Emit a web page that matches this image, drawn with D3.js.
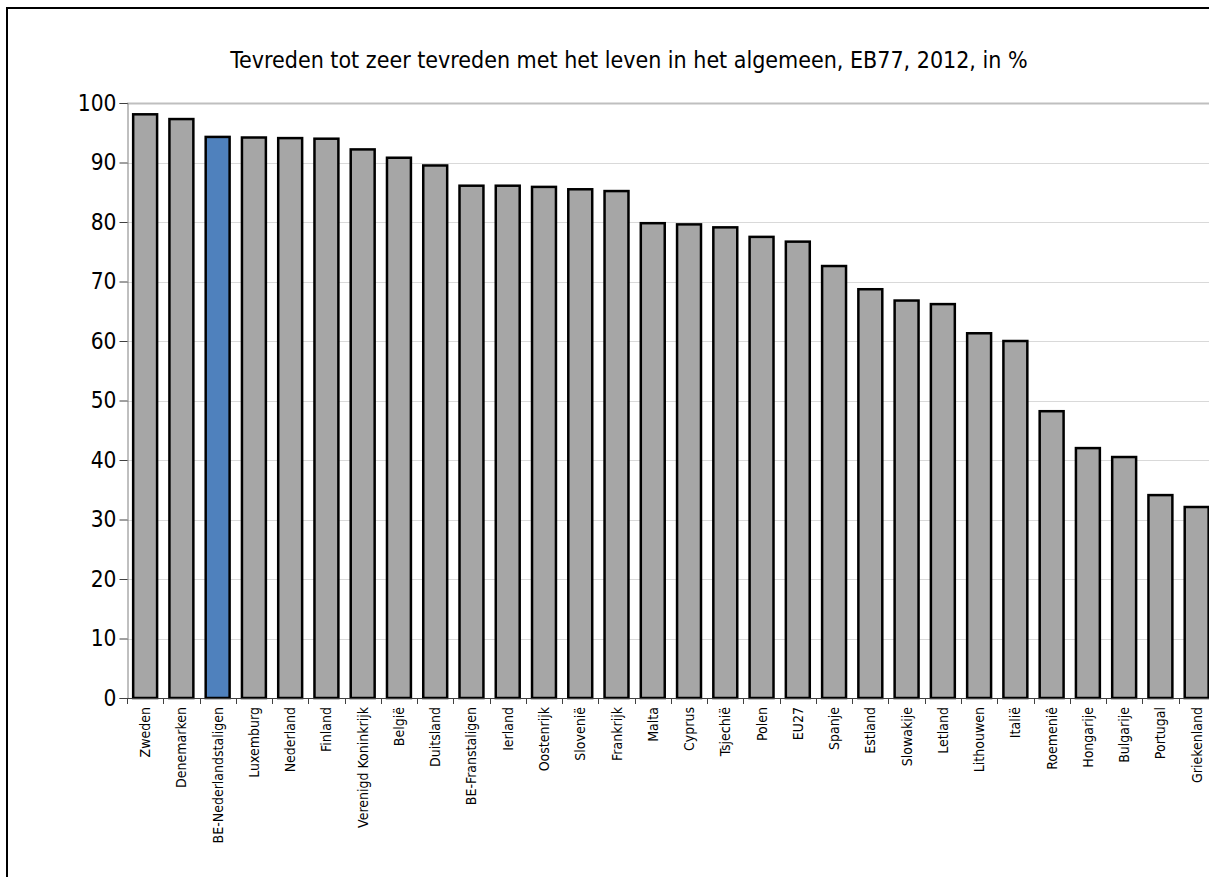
<!DOCTYPE html>
<html>
<head>
<meta charset="utf-8">
<script src="https://cdn.jsdelivr.net/npm/d3@7"></script>
<style>
  body { margin: 0; background: #fff; }
  svg { display: block; }
  .title { font-family: "DejaVu Sans Condensed", "DejaVu Sans", sans-serif; font-size: 23px; }
  .y.axis text { font-family: "DejaVu Sans Condensed", "DejaVu Sans", sans-serif; font-size: 22.5px; fill: #000; }
  .x.axis text { font-family: "DejaVu Sans Condensed", "DejaVu Sans", sans-serif; font-size: 14px; fill: #000; }
</style>
</head>
<body>
<svg width="1209" height="877"></svg>
<script>
// countries, sorted as in the source chart
var countries = ["Zweden", "Denemarken", "BE-Nederlandstaligen", "Luxemburg", "Nederland",
  "Finland", "Verenigd Koninkrijk", "België", "Duitsland", "BE-Franstaligen", "Ierland",
  "Oostenrijk", "Slovenië", "Frankrijk", "Malta", "Cyprus", "Tsjechië", "Polen", "EU27",
  "Spanje", "Estland", "Slowakije", "Letland", "Lithouwen", "Italië", "Roemeniê",
  "Hongarije", "Bulgarije", "Portugal", "Griekenland"];
// % satisfied
var values = [98.1, 97.3, 94.3, 94.2, 94.1, 94.0, 92.2, 90.8, 89.5, 86.1, 86.1,
  85.9, 85.5, 85.2, 79.8, 79.6, 79.1, 77.5, 76.7, 72.6, 68.7, 66.8, 66.2, 61.3, 60.0,
  48.2, 42.0, 40.5, 34.1, 32.1];
var highlight = "BE-Nederlandstaligen";
var yTicks = [0, 10, 20, 30, 40, 50, 60, 70, 80, 90, 100];

var data = countries.map(function(c, i) { return {name: c, value: values[i]}; });

var svg = d3.select("svg");

var plotLeft = 127, plotTop = 103, plotBottom = 698;
var step = 36.26;

var x = d3.scaleBand()
    .domain(countries)
    .range([plotLeft, plotLeft + step * countries.length])
    .paddingInner(0.34)
    .paddingOuter(0.17);

var y = d3.scaleLinear().domain([0, 100]).range([plotBottom, plotTop]);

// outer frame (cropped on right and bottom)
svg.append("rect")
    .attr("x", 7).attr("y", 8)
    .attr("width", 1230).attr("height", 900)
    .attr("fill", "none")
    .attr("stroke", "#000")
    .attr("stroke-width", 2);

// title
svg.append("text")
    .attr("class", "title")
    .attr("x", 629)
    .attr("y", 68)
    .attr("text-anchor", "middle")
    .text("Tevreden tot zeer tevreden met het leven in het algemeen, EB77, 2012, in %");

// gridlines
svg.append("g")
    .selectAll("line")
    .data(yTicks.filter(function(d) { return d > 0; }))
  .enter().append("line")
    .attr("x1", plotLeft).attr("x2", 1209)
    .attr("y1", function(d) { return Math.round(y(d)) + 0.5; })
    .attr("y2", function(d) { return Math.round(y(d)) + 0.5; })
    .attr("stroke", function(d) { return d === 100 ? "#bfbfbf" : "#d9d9d9"; })
    .attr("stroke-width", function(d) { return d === 100 ? 2 : 1; });

// bars
svg.selectAll(".bar")
    .data(data)
  .enter().append("rect")
    .attr("class", "bar")
    .attr("x", function(d) { return x(d.name); })
    .attr("width", x.bandwidth())
    .attr("y", function(d) { return y(d.value); })
    .attr("height", function(d) { return y(0) - y(d.value); })
    .attr("fill", function(d) { return d.name === highlight ? "#4f81bd" : "#a6a6a6"; })
    .attr("stroke", "#000")
    .attr("stroke-width", 2.5);

// y axis
var yAxis = d3.axisLeft(y).tickValues(yTicks).tickSize(8).tickPadding(3);
var gy = svg.append("g")
    .attr("class", "y axis")
    .attr("transform", "translate(" + (plotLeft + 0.5) + ",0)")
    .call(yAxis);
gy.select(".domain").attr("stroke", "#808080");
gy.selectAll(".tick line").attr("stroke", "#404040");

// x axis with ticks between categories
var bounds = d3.range(countries.length + 1).map(function(i) { return plotLeft + i * step; });
var gx = svg.append("g").attr("class", "x axis");
gx.append("line")
    .attr("x1", plotLeft).attr("x2", 1209)
    .attr("y1", plotBottom + 0.5).attr("y2", plotBottom + 0.5)
    .attr("stroke", "#404040");
gx.selectAll(".xt")
    .data(bounds)
  .enter().append("line")
    .attr("class", "xt")
    .attr("x1", function(d) { return Math.round(d) + 0.5; })
    .attr("x2", function(d) { return Math.round(d) + 0.5; })
    .attr("y1", plotBottom).attr("y2", plotBottom + 6)
    .attr("stroke", "#404040");
gx.selectAll(".lbl")
    .data(countries)
  .enter().append("text")
    .attr("class", "lbl")
    .attr("transform", function(d) {
      return "translate(" + (x(d) + x.bandwidth() / 2 + 5) + "," + (plotBottom + 9) + ") rotate(-90)";
    })
    .attr("text-anchor", "end")
    .text(function(d) { return d; });
</script>
</body>
</html>
